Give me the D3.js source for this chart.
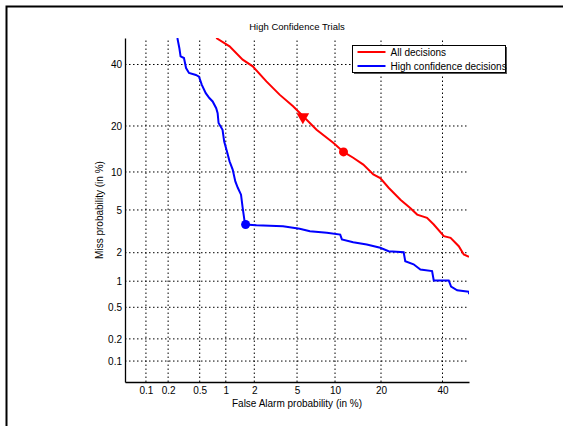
<!DOCTYPE html>
<html>
<head>
<meta charset="utf-8">
<script src="https://cdn.jsdelivr.net/npm/d3@7"></script>
<style>
  body { margin: 0; background: #fff; }
  svg { font-family: "Liberation Sans", Arial, Helvetica, sans-serif; }
</style>
</head>
<body>
<script>
// tick values (in %)
const ticks = [0.1, 0.2, 0.5, 1, 2, 5, 10, 20, 40]

// All decisions (false alarm %, miss %)
const allFA = [0.78, 1.1, 1.52, 1.93, 2.63, 3.5, 4.62, 5.63, 7.24, 9.7, 11.5, 13.4, 15.6, 18.0, 19.8, 22.1, 25.6, 28.7, 31.0, 34.4, 36.8, 40.5, 43.0, 46.1, 48.0, 50]
const allMiss = [50, 46.8, 41.8, 39.3, 33.9, 29.4, 25.7, 22.7, 19.0, 15.8, 13.8, 12.6, 11.3, 9.6, 9.0, 7.6, 6.1, 5.2, 4.56, 4.27, 3.72, 2.9, 2.8, 2.32, 1.92, 1.82]

// High confidence decisions
const hiFA = [0.264, 0.28, 0.29, 0.32, 0.34, 0.37, 0.45, 0.49, 0.53, 0.59, 0.65, 0.71, 0.78, 0.81, 0.83, 0.92, 0.96, 1.03, 1.1, 1.19, 1.27, 1.35, 1.46, 1.52, 1.59, 1.63, 2.1, 3.76, 5.27, 6.4, 8.7, 10.9, 11.2, 13.4, 16.4, 19.8, 22.1, 26.6, 27.1, 29.8, 32.1, 36.2, 36.8, 42.3, 43.2, 45.5, 50, 50]
const hiMiss = [50, 46.1, 43.0, 42.4, 38.7, 36.9, 36.2, 35.6, 32.7, 29.9, 28.3, 27.2, 25.1, 23.6, 20.8, 19.0, 16.1, 13.9, 11.9, 10.4, 8.5, 7.6, 6.7, 5.2, 4.0, 3.72, 3.66, 3.58, 3.4, 3.23, 3.12, 3.0, 2.7, 2.54, 2.41, 2.24, 2.07, 2.02, 1.64, 1.52, 1.34, 1.29, 1.02, 1.02, 0.87, 0.79, 0.76, 0.71]

// operating points: [FA %, Miss %]
const allTri = [5.6, 22.5]
const allDot = [11.5, 13.8]
const hiDot = [1.63, 3.72]

// inverse normal cdf (Acklam)
const probit = p => {
  const a = [-39.69683028665376, 220.9460984245205, -275.9285104469687, 138.3577518672690, -30.66479806614716, 2.506628277459239]
  const b = [-54.47609879822406, 161.5858368580409, -155.6989798598866, 66.80131188771972, -13.28068155288572]
  const c = [-0.007784894002430293, -0.3223964580411365, -2.400758277161838, -2.549732539343734, 4.374664141464968, 2.938163982698783]
  const d = [0.007784695709041462, 0.3224671290700398, 2.445134137142996, 3.754408661907416]
  const lo = q => (((((c[0]*q+c[1])*q+c[2])*q+c[3])*q+c[4])*q+c[5]) / ((((d[0]*q+d[1])*q+d[2])*q+d[3])*q+1)
  if (p < 0.02425) return lo(Math.sqrt(-2 * Math.log(p)))
  if (p > 1 - 0.02425) return -lo(Math.sqrt(-2 * Math.log(1 - p)))
  const q = p - 0.5, r = q * q
  return (((((a[0]*r+a[1])*r+a[2])*r+a[3])*r+a[4])*r+a[5])*q / (((((b[0]*r+b[1])*r+b[2])*r+b[3])*r+b[4])*r+1)
}
const pz = v => probit(v / 100)

const width = 563, height = 426
const margin = {top: 38, left: 125, right: 94, bottom: 44}

const svg = d3.select('body').append('svg')
  .attr('width', width)
  .attr('height', height)

// figure frame
svg.append('path')
  .attr('d', `M6.5,${height} V6.5 H${width}`)
  .attr('fill', 'none')
  .attr('stroke', '#000')
  .attr('stroke-width', 2)

const x = d3.scaleLinear()
  .domain([pz(0.05), pz(50)])
  .range([margin.left, width - margin.right])
const y = d3.scaleLinear()
  .domain([pz(0.05), pz(50)])
  .range([height - margin.bottom, margin.top])

const fmt = v => String(v)

// grid
svg.append('g').selectAll('line.gx')
  .data(ticks).enter().append('line')
  .attr('x1', d => x(pz(d))).attr('x2', d => x(pz(d)))
  .attr('y1', y.range()[0]).attr('y2', y.range()[1])
  .attr('stroke', '#000').attr('stroke-width', 1)
  .attr('stroke-dasharray', '1.5,2.5')
svg.append('g').selectAll('line.gy')
  .data(ticks).enter().append('line')
  .attr('y1', d => y(pz(d))).attr('y2', d => y(pz(d)))
  .attr('x1', x.range()[0]).attr('x2', x.range()[1])
  .attr('stroke', '#000').attr('stroke-width', 1)
  .attr('stroke-dasharray', '1.5,2.5')

// axes
const xAxis = d3.axisBottom(x)
  .tickValues(ticks.map(pz))
  .tickFormat((d, i) => fmt(ticks[i]))
  .tickSize(0).tickPadding(5)
const yAxis = d3.axisLeft(y)
  .tickValues(ticks.map(pz))
  .tickFormat((d, i) => fmt(ticks[i]))
  .tickSize(0).tickPadding(3)

const gx = svg.append('g')
  .attr('transform', `translate(0,${height - margin.bottom})`)
  .call(xAxis)
const gy = svg.append('g')
  .attr('transform', `translate(${margin.left},0)`)
  .call(yAxis)
;[gx, gy].forEach(g => {
  g.select('.domain').attr('stroke', '#000').attr('stroke-width', 1.3)
  g.selectAll('text').attr('font-size', 10).attr('fill', '#000')
    .attr('font-family', '"Liberation Sans", Arial, sans-serif')
})

// clip
svg.append('clipPath').attr('id', 'clip')
  .append('rect')
  .attr('x', margin.left).attr('y', margin.top)
  .attr('width', width - margin.left - margin.right)
  .attr('height', height - margin.top - margin.bottom)

const line = d3.line()
  .x(d => x(pz(d[0])))
  .y(d => y(pz(d[1])))

const plot = svg.append('g').attr('clip-path', 'url(#clip)')

plot.append('path')
  .datum(allFA.map((v, i) => [v, allMiss[i]]))
  .attr('d', line)
  .attr('fill', 'none')
  .attr('stroke', '#ff0000')
  .attr('stroke-width', 2)

plot.append('path')
  .datum(hiFA.map((v, i) => [v, hiMiss[i]]))
  .attr('d', line)
  .attr('fill', 'none')
  .attr('stroke', '#0000ff')
  .attr('stroke-width', 2)

// markers
svg.append('path')
  .attr('d', d3.symbol().type(d3.symbolTriangle).size(70))
  .attr('transform', `translate(${x(pz(allTri[0]))},${y(pz(allTri[1]))}) rotate(180)`)
  .attr('fill', '#ff0000')
svg.append('circle')
  .attr('cx', x(pz(allDot[0]))).attr('cy', y(pz(allDot[1])))
  .attr('r', 4.5).attr('fill', '#ff0000')
svg.append('circle')
  .attr('cx', x(pz(hiDot[0]))).attr('cy', y(pz(hiDot[1])))
  .attr('r', 4.5).attr('fill', '#0000ff')

// title and labels
svg.append('text')
  .attr('x', (x.range()[0] + x.range()[1]) / 2).attr('y', 30)
  .attr('text-anchor', 'middle').attr('font-size', 9.5)
  .text('High Confidence Trials')
svg.append('text')
  .attr('x', (x.range()[0] + x.range()[1]) / 2).attr('y', 407)
  .attr('text-anchor', 'middle').attr('font-size', 10)
  .text('False Alarm probability (in %)')
svg.append('text')
  .attr('transform', `translate(103,${(y.range()[0] + y.range()[1]) / 2}) rotate(-90)`)
  .attr('text-anchor', 'middle').attr('font-size', 10)
  .text('Miss probability (in %)')

// legend
const leg = svg.append('g').attr('transform', 'translate(352.5,45.5)')
leg.append('rect').attr('x', 1.5).attr('y', 1.5).attr('width', 153).attr('height', 27).attr('fill', '#555')
leg.append('rect').attr('width', 153).attr('height', 27).attr('fill', '#fff').attr('stroke', '#000').attr('stroke-width', 1)
const items = [['All decisions', '#ff0000'], ['High confidence decisions', '#0000ff']]
items.forEach((it, i) => {
  leg.append('line')
    .attr('x1', 5).attr('x2', 33)
    .attr('y1', 6.5 + i * 14).attr('y2', 6.5 + i * 14)
    .attr('stroke', it[1]).attr('stroke-width', 2)
  leg.append('text')
    .attr('x', 38).attr('y', 10 + i * 14)
    .attr('font-size', 10)
    .text(it[0])
})
</script>
</body>
</html>
